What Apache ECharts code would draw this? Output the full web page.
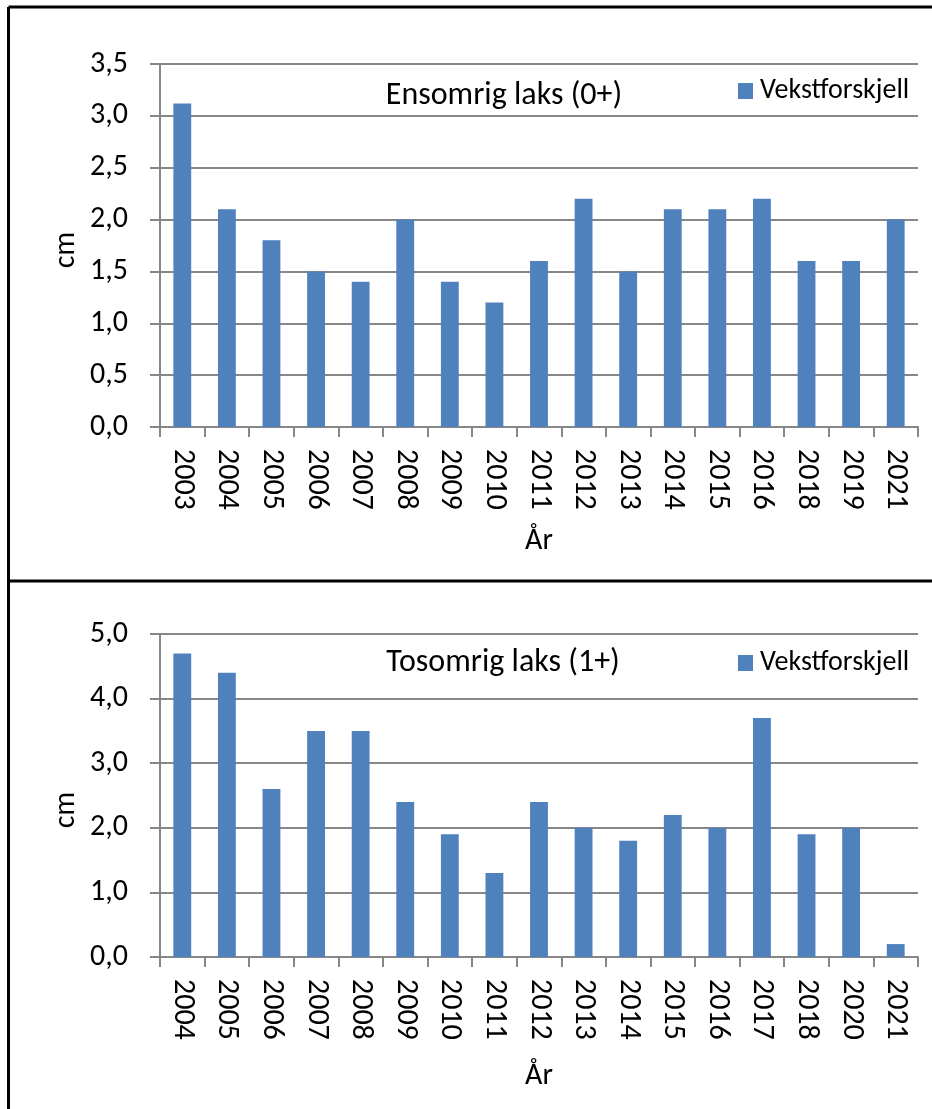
<!DOCTYPE html>
<html>
<head>
<meta charset="utf-8">
<title>Vekstforskjell laks</title>
<script src="https://cdn.jsdelivr.net/npm/echarts@6/dist/echarts.min.js"></script>
<style>
  html, body { margin: 0; padding: 0; background: #ffffff; }
  #chart { width: 932px; height: 1109px; }
</style>
</head>
<body>
<div id="chart"></div>
<script>
// Ensomrig laks (0+)
const topYears = ['2003', '2004', '2005', '2006', '2007', '2008', '2009', '2010', '2011',
  '2012', '2013', '2014', '2015', '2016', '2018', '2019', '2021'];
const topValues = [3.12, 2.1, 1.8, 1.5, 1.4, 2.0, 1.4, 1.2, 1.6, 2.2, 1.5, 2.1, 2.1, 2.2, 1.6, 1.6, 2.0];

// Tosomrig laks (1+)
const bottomYears = ['2004', '2005', '2006', '2007', '2008', '2009', '2010', '2011', '2012',
  '2013', '2014', '2015', '2016', '2017', '2018', '2020', '2021'];
const bottomValues = [4.7, 4.4, 2.6, 3.5, 3.5, 2.4, 1.9, 1.3, 2.4, 2.0, 1.8, 2.2, 2.0, 3.7, 1.9, 2.0, 0.2];

const panelTitles = ['Ensomrig laks (0+)', 'Tosomrig laks (1+)'];
const seriesName = 'Vekstforskjell';
const yAxisName = 'cm';
const xAxisName = 'År';

const FONT = 'Carlito, Calibri, Lato, sans-serif';
const FS_AXIS = 30;     // tick labels and axis names
const FS_TITLE = 32;    // panel titles
const FS_LEGEND = 28;   // legend text
const GRID_GREY = '#878787';
const BAR_BLUE = '#4F81BD';

const chart = echarts.init(document.getElementById('chart'), null, { renderer: 'canvas' });

const commaFmt = v => v.toFixed(1).replace('.', ',');

function xAxisFor(gridIndex, cats) {
  return {
    type: 'category',
    gridIndex: gridIndex,
    data: cats,
    boundaryGap: true,
    axisLine: { show: true, lineStyle: { color: GRID_GREY, width: 2 } },
    axisTick: { show: true, length: 10, inside: false, lineStyle: { color: GRID_GREY, width: 2 } },
    axisLabel: { rotate: -90, margin: 22, color: '#000', fontFamily: FONT, fontSize: FS_AXIS, interval: 0 }
  };
}

function yAxisFor(gridIndex, max, interval) {
  return {
    type: 'value',
    gridIndex: gridIndex,
    min: 0,
    max: max,
    interval: interval,
    axisLine: { show: true, lineStyle: { color: GRID_GREY, width: 2 } },
    axisTick: { show: true, length: 10, inside: false, lineStyle: { color: GRID_GREY, width: 2 } },
    axisLabel: { margin: 32, color: '#000', fontFamily: FONT, fontSize: FS_AXIS, formatter: commaFmt },
    splitLine: { show: true, lineStyle: { color: GRID_GREY, width: 2 } }
  };
}

function titleFor(text, centerX, top) {
  return {
    text: text,
    left: centerX,
    top: top,
    textAlign: 'center',
    padding: 0,
    textStyle: { fontFamily: FONT, fontSize: FS_TITLE, fontWeight: 'normal', color: '#000', lineHeight: 34 }
  };
}

function legendFor(top) {
  return {
    data: [seriesName],
    left: 738,
    top: top,
    padding: 0,
    icon: 'rect',
    itemWidth: 15,
    itemHeight: 16,
    selectedMode: false,
    textStyle: { fontFamily: FONT, fontSize: FS_LEGEND, color: '#000', lineHeight: 30, padding: [0, 0, 0, 2] }
  };
}

function axisText(text, x, y, rotation) {
  return {
    type: 'text',
    x: x,
    y: y,
    rotation: rotation,
    silent: true,
    style: {
      text: text,
      fill: '#000',
      font: FS_AXIS + 'px ' + FONT,
      align: 'center',
      verticalAlign: 'middle'
    }
  };
}

function borderLine(points) {
  return {
    type: 'polyline',
    silent: true,
    shape: { points: points },
    style: { stroke: '#000', lineWidth: 3, fill: null }
  };
}

const option = {
  backgroundColor: '#ffffff',
  animation: false,
  title: [
    titleFor(panelTitles[0], 504, 79),
    titleFor(panelTitles[1], 503, 646)
  ],
  legend: [legendFor(76), legendFor(648)],
  grid: [
    { left: 160, right: 14, top: 64, height: 363, containLabel: false },
    { left: 160, right: 14, top: 634, height: 323, containLabel: false }
  ],
  xAxis: [xAxisFor(0, topYears), xAxisFor(1, bottomYears)],
  yAxis: [yAxisFor(0, 3.5, 0.5), yAxisFor(1, 5, 1)],
  series: [
    {
      name: seriesName,
      type: 'bar',
      xAxisIndex: 0,
      yAxisIndex: 0,
      data: topValues,
      barWidth: '40%',
      itemStyle: { color: BAR_BLUE }
    },
    {
      name: seriesName,
      type: 'bar',
      xAxisIndex: 1,
      yAxisIndex: 1,
      data: bottomValues,
      barWidth: '40%',
      itemStyle: { color: BAR_BLUE }
    }
  ],
  graphic: [
    borderLine([[8.5, 7], [932, 7]]),
    borderLine([[8.5, 7], [8.5, 1109]]),
    borderLine([[8.5, 581], [932, 581]]),
    axisText(yAxisName, 66, 250, Math.PI / 2),
    axisText(yAxisName, 66, 810, Math.PI / 2),
    axisText(xAxisName, 539, 541, 0),
    axisText(xAxisName, 539, 1076, 0)
  ]
};

chart.setOption(option);
</script>
</body>
</html>
